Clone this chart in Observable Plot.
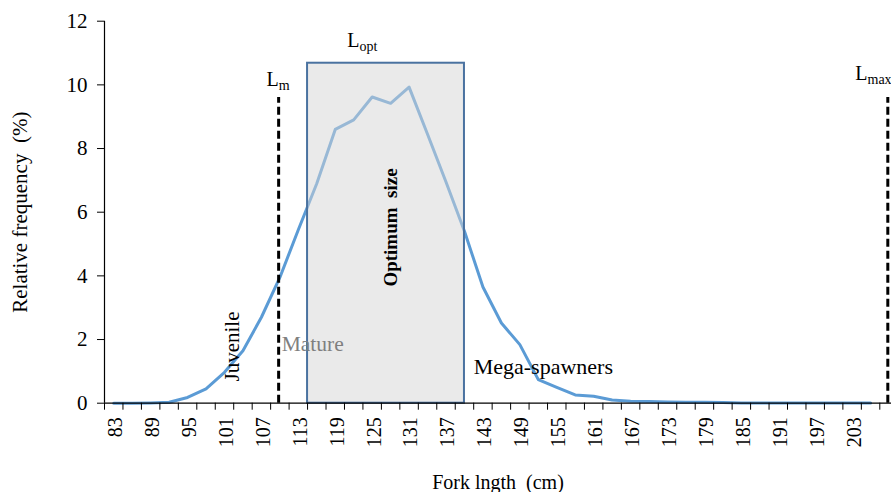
<!DOCTYPE html>
<html>
<head>
<meta charset="utf-8">
<script src="https://cdn.jsdelivr.net/npm/d3@7"></script>
<script src="https://cdn.jsdelivr.net/npm/@observablehq/plot@0.6"></script>
<style>
  html, body { margin: 0; padding: 0; background: #fff; }
  #chart svg { display: block; }
</style>
</head>
<body>
<div id="chart"></div>
<script>
// Fork length classes (cm), 3 cm bins
const lengths = [83, 86, 89, 92, 95, 98, 101, 104, 107, 110, 113, 116, 119, 122, 125, 128, 131, 134, 137, 140,
  143, 146, 149, 152, 155, 158, 161, 164, 167, 170, 173, 176, 179, 182, 185, 188, 191, 194, 197, 200, 203, 206];
// Relative frequency (%)
const freq = [0, 0, 0.01, 0.03, 0.18, 0.45, 0.97, 1.65, 2.7, 3.95, 5.45, 6.9, 8.6, 8.9, 9.62, 9.42, 9.93, 8.45, 6.95, 5.4,
  3.65, 2.52, 1.84, 0.74, 0.5, 0.26, 0.22, 0.1, 0.06, 0.05, 0.04, 0.03, 0.03, 0.02, 0.01, 0.01, 0.01, 0.01, 0.01, 0.01, 0.01, 0.01];
// x tick labels
const xLabels = [83, 89, 95, 101, 107, 113, 119, 125, 131, 137, 143, 149, 155, 161, 167, 173, 179, 185, 191, 197, 203];
const yTicks = [0, 2, 4, 6, 8, 10, 12];
// Reference lengths
const Lm = 109.8;
const Lmax = 208.8;
const LoptRange = [114.5, 140];
const LoptTop = 10.68;
const refTop = 9.6;

const binWidth = lengths[1] - lengths[0];
const boundaries = lengths.map(d => d - binWidth / 2).concat([lengths[lengths.length - 1] + binWidth / 2]);
const data = lengths.map((x, i) => ({x, y: freq[i]}));

const optRect = [{x1: LoptRange[0], x2: LoptRange[1], y1: 0, y2: LoptTop}];

const serif = "'Liberation Serif', 'Times New Roman', serif";

const chart = Plot.plot({
  width: 891,
  height: 492,
  marginLeft: 104,
  marginRight: 0,
  marginTop: 20.7,
  marginBottom: 89.3,
  style: {fontFamily: serif, fontSize: "20px", color: "#000", background: "#fff"},
  x: {domain: [81.5, 209.4]},
  y: {domain: [0, 12]},
  marks: [
    // curve
    Plot.line(data, {x: "x", y: "y", stroke: "#5b9bd5", strokeWidth: 3, strokeLinejoin: "round"}),
    // optimum size box (semi-transparent fill over the curve)
    Plot.rect(optRect, {x1: "x1", x2: "x2", y1: "y1", y2: "y2", fill: "#d6d6d6", fillOpacity: 0.5}),
    Plot.rect(optRect, {x1: "x1", x2: "x2", y1: "y1", y2: "y2", fill: "none", stroke: "#4a72a0", strokeWidth: 2}),
    // Lm and Lmax dashed lines
    Plot.ruleX([Lm, Lmax], {y1: 0, y2: refTop, stroke: "#000", strokeWidth: 3, strokeDasharray: "8,4"}),
    // axes lines
    Plot.ruleY([0], {stroke: "#000", strokeWidth: 1.2}),
    Plot.ruleX([81.5], {y1: 0, y2: 12, stroke: "#000", strokeWidth: 1.2}),
    // y axis
    Plot.axisY({ticks: yTicks, tickSize: 7, tickPadding: 10, fontSize: 21, fontFamily: serif,
      label: "Relative frequency  (%)", labelAnchor: "center", labelOffset: 92, labelArrow: "none"}),
    // x tick marks at bin boundaries
    Plot.axisX({ticks: boundaries, tickSize: 7, tickFormat: () => "", label: null}),
    // x tick labels
    Plot.axisX({ticks: xLabels, tickSize: 0, tickRotate: -90, tickPadding: 14, fontSize: 20, dx: 2, fontFamily: serif,
      label: "Fork lngth  (cm)", labelAnchor: "center", labelOffset: 86, labelArrow: "none"}),
    // annotations
    Plot.text(["Optimum  size"], {x: 128.0, y: 5.52, rotate: -90, fontSize: 19, fontWeight: "bold", textAnchor: "middle", lineAnchor: "middle"}),
    Plot.text(["Juvenile"], {x: 102.3, y: 1.78, rotate: -90, fontSize: 21, textAnchor: "middle", lineAnchor: "middle"}),
    Plot.text(["Mature"], {x: 110.3, y: 1.65, fontSize: 21.5, fill: "#7f7f7f", textAnchor: "start", lineAnchor: "bottom"}),
    Plot.text(["Mega-spawners"], {x: 141.5, y: 0.93, fontSize: 22, textAnchor: "start", lineAnchor: "bottom"}),
    // L labels
    Plot.text(["L"], {x: Lm, y: 9.98, fontSize: 20, textAnchor: "end", lineAnchor: "bottom"}),
    Plot.text(["m"], {x: Lm, y: 9.98, fontSize: 14, textAnchor: "start", lineAnchor: "bottom", dy: 4}),
    Plot.text(["L"], {x: 122.95, y: 11.18, fontSize: 20, textAnchor: "end", lineAnchor: "bottom"}),
    Plot.text(["opt"], {x: 122.95, y: 11.18, fontSize: 14, textAnchor: "start", lineAnchor: "bottom", dy: 4}),
    Plot.text(["L"], {x: 205.5, y: 10.14, fontSize: 20, textAnchor: "end", lineAnchor: "bottom"}),
    Plot.text(["max"], {x: 205.5, y: 10.14, fontSize: 14, textAnchor: "start", lineAnchor: "bottom", dy: 4})
  ]
});
document.getElementById("chart").appendChild(chart);
</script>
</body>
</html>
